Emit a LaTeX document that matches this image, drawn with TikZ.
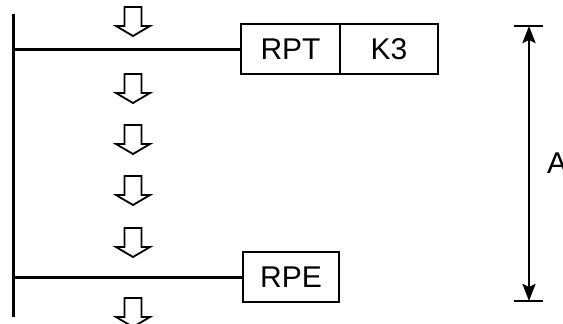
\documentclass[tikz,border=0pt]{standalone}
\usepackage{fontspec}
\setmainfont{Liberation Sans}
\usetikzlibrary{arrows.meta, positioning}

\begin{document}
\begin{tikzpicture}[
        x=1pt, y=-1pt,
        texto/.style={font=\fontsize{30}{32}\selectfont},
        caixa/.style={draw, line width=1.8pt, minimum height=50pt, inner sep=0pt, texto},
        seta_fluxo/.style={draw, line width=1.8pt, line join=miter},
        barra/.style={line width=3pt},
        cota/.style={line width=2.4pt}
    ]
    \useasboundingbox (0,0) rectangle (563,324);

    % barramento e linhas
    \coordinate (bus_top) at (13,14);
    \coordinate (bus_bot) at (13,317);
    \draw[barra] (bus_top) -- (bus_bot);

    \node (rpt) [caixa, minimum width=99pt] at (290.5,49) {RPT};
    \node (k3) [caixa, minimum width=98pt, right=-1.8pt of rpt] {K3};
    \node (rpe) [caixa, minimum width=96pt] at (291,277) {RPE};

    \coordinate (l1) at (13,49);
    \coordinate (l2) at (13,277);
    \draw[barra] (l1) -- (rpt.west);
    \draw[barra] (l2) -- (rpe.west);

    % setas de fluxo
    \foreach \t in {7,74,125,176,228,298} {
        \draw[seta_fluxo] (124.5,\t) -- (141.5,\t) -- (141.5,\t+19) -- (150,\t+19)
            -- (133,\t+29) -- (116,\t+19) -- (124.5,\t+19) -- cycle;
    }

    % cota A
    \coordinate (c_top) at (529,26);
    \coordinate (c_bot) at (529,301);
    \draw[cota] (514,26) -- (543,26);
    \draw[cota] (514,301) -- (543,301);
    \draw[cota, {Stealth[length=17pt,width=13pt,inset=3pt]}-{Stealth[length=17pt,width=13pt,inset=3pt]}] (c_top) -- (c_bot);
    \node (rotulo_a) [anchor=west, inner sep=0pt, texto] at (547,163) {A};
\end{tikzpicture}
\end{document}
